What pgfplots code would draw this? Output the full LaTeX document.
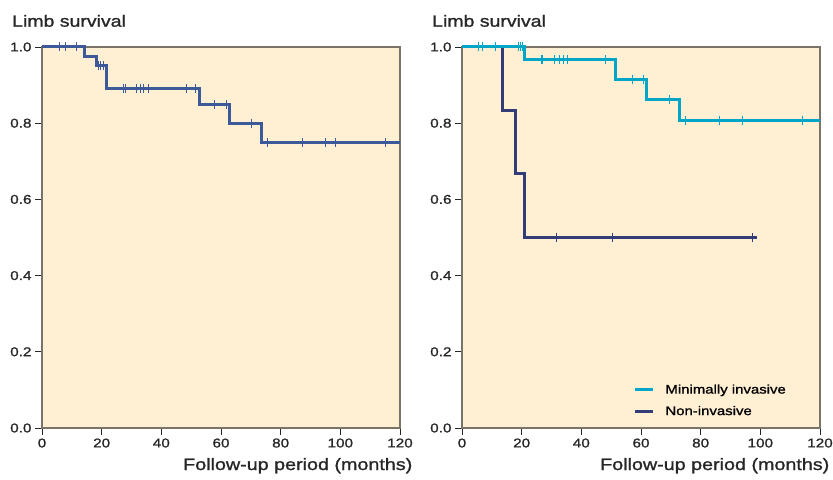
\documentclass[border=0pt]{standalone}
\usepackage{fontspec}
\setmainfont{Liberation Sans}[FakeStretch=1.2, FakeBold=1.2]
\usepackage{pgfplots}
\pgfplotsset{compat=1.18}
\definecolor{bg}{HTML}{FFEFD3}
\definecolor{kmblue}{HTML}{3C5A99}
\definecolor{kmcyan}{HTML}{00A5C8}
\definecolor{kmnavy}{HTML}{323C78}
\definecolor{axgray}{HTML}{7A7468}
\pgfplotsset{km/.style={
  scale only axis, width=358bp, height=381bp,
  xmin=0, xmax=120, ymin=0, ymax=1,
  xtick={0,20,40,60,80,100,120},
  ytick={0,0.2,0.4,0.6,0.8,1},
  yticklabel style={/pgf/number format/fixed,/pgf/number format/fixed zerofill,/pgf/number format/precision=1},
  /pgf/number format/assume math mode=true,
  tick align=outside, xtick pos=bottom, ytick pos=left,
  major tick length=7bp,
  axis background/.style={fill=bg},
  axis line style={draw=axgray, line width=1.1bp},
  tick style={draw=black!85, line width=0.8bp},
  ticklabel style={font=\fontsize{12.8}{14}\selectfont, text=black!85},
  clip=false,
  step/.style={const plot, line width=3bp, no marks},
  cens/.style={only marks, mark=|, mark size=4.5bp, mark options={line width=0.9bp}},
}}
\begin{document}
\begin{tikzpicture}
\path[use as bounding box] (-42bp,-52bp) rectangle (791bp,428bp);
\begin{axis}[km, at={(0bp,0bp)}, anchor=south west]
\addplot[kmblue, step] coordinates {(0,1)(14.2,0.976)(18.3,0.951)(21.7,0.891)(52.7,0.848)(62.8,0.80)(73.6,0.749)(120,0.749)};
\addplot[kmblue, cens] coordinates {
(5.8,1)(8,1)(11.7,1)
(19,0.951)(19.7,0.951)(20.5,0.951)
(27.3,0.891)(27.9,0.891)(31.7,0.891)(33,0.891)(34,0.891)(35.6,0.891)(48.5,0.891)(51.3,0.891)
(57.8,0.848)(61.7,0.848)
(70.3,0.80)
(75.7,0.749)(87.3,0.749)(95.1,0.749)(98.5,0.749)(115.2,0.749)};
\end{axis}
\begin{axis}[km, at={(420bp,0bp)}, anchor=south west,
  legend style={at={(rel axis cs:0.47,0.125)}, anchor=north west, draw=none, fill=none,
    font=\fontsize{12.5}{14}\selectfont, row sep=7bp, cells={anchor=west}},
  legend image code/.code={\draw[#1] (0bp,0bp) -- (18bp,0bp);},
  legend style={nodes={inner xsep=11bp}}]
\addplot[kmnavy, step, forget plot] coordinates {(0,1)(13.6,0.833)(17.8,0.667)(20.9,0.5)(98.8,0.5)};
\addplot[kmnavy, cens, forget plot] coordinates {(31.7,0.5)(50.4,0.5)(97.4,0.5)};
\addplot[kmcyan, step, forget plot] coordinates {(0,1)(20.8,0.966)(51.6,0.916)(61.7,0.863)(72.8,0.806)(120,0.806)};
\addplot[kmcyan, cens, forget plot] coordinates {
(5.5,1)(6.9,1)(11.3,1)(18.8,1)(19.5,1)(20.1,1)
(26.5,0.966)(27.1,0.966)(31,0.966)(32.8,0.966)(34,0.966)(35.2,0.966)(48,0.966)
(57.1,0.916)(60.8,0.916)
(69.4,0.863)
(75,0.806)(86.4,0.806)(94.1,0.806)(114,0.806)};
\addlegendimage{kmcyan, line width=3bp}
\addlegendentry{Minimally invasive}
\addlegendimage{kmnavy, line width=3bp}
\addlegendentry{Non-invasive}
\end{axis}
\node[anchor=base west, inner sep=0pt, font=\fontsize{16.3}{19}\selectfont, text=black!85] at (-30bp,401.3bp) {Limb survival};
\node[anchor=base west, inner sep=0pt, font=\fontsize{16.3}{19}\selectfont, text=black!85] at (390bp,401.3bp) {Limb survival};
\node[anchor=base west, inner sep=0pt, font=\fontsize{16.5}{19}\selectfont, text=black!85] at (141bp,-42bp) {Follow-up period (months)};
\node[anchor=base west, inner sep=0pt, font=\fontsize{16.5}{19}\selectfont, text=black!85] at (558bp,-42bp) {Follow-up period (months)};
\end{tikzpicture}
\end{document}
